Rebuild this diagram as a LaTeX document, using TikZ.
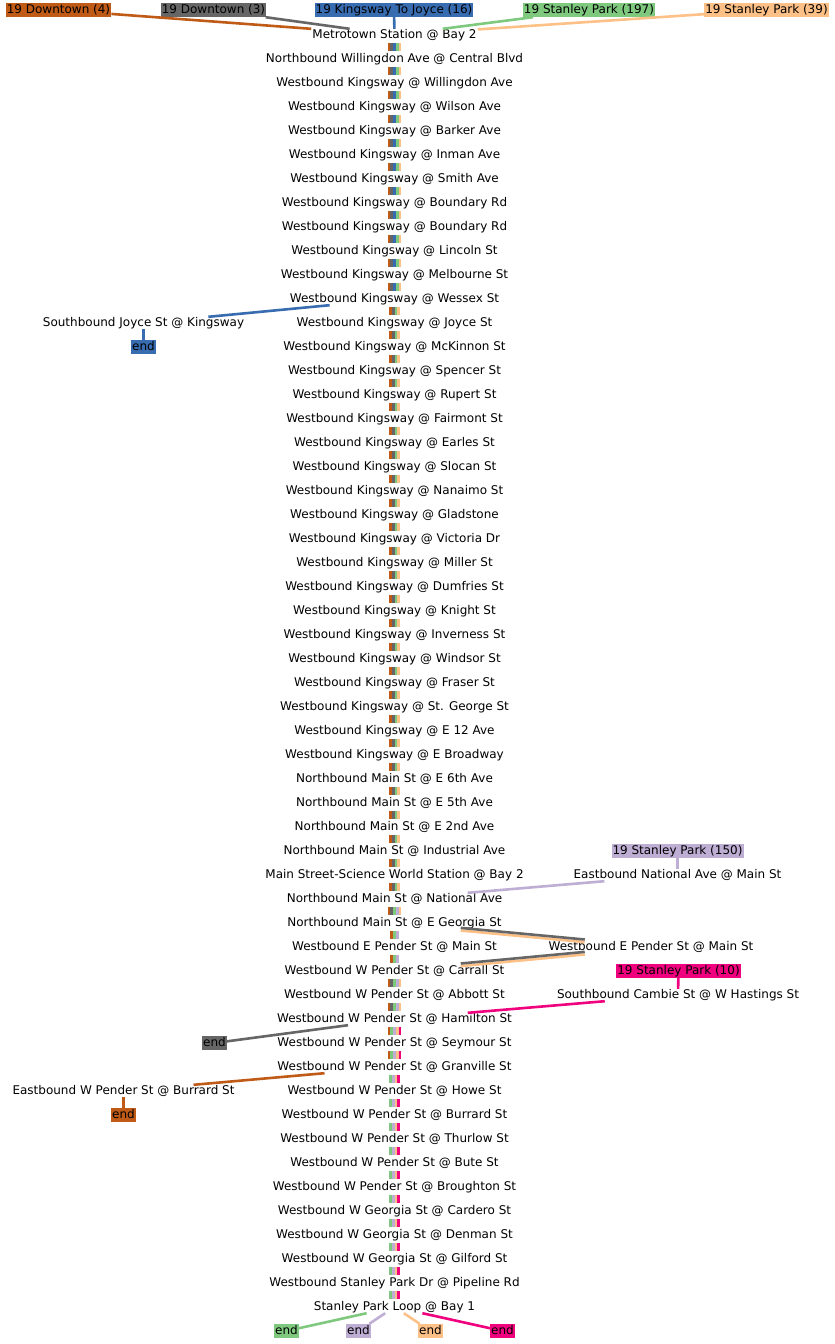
\documentclass[tikz,border=0pt]{standalone}
\usepackage{fontspec}
\setmainfont{DejaVu Sans}
\definecolor{cbrown}{HTML}{BF5B17}
\definecolor{cgray}{HTML}{666666}
\definecolor{cblue}{HTML}{386CB0}
\definecolor{cgreen}{HTML}{7FC97F}
\definecolor{cpurple}{HTML}{BEAED4}
\definecolor{cpeach}{HTML}{FDC086}
\definecolor{cpink}{HTML}{F0027F}
\tikzset{
  stopnode/.style={font=\fontsize{12pt}{14pt}\selectfont, inner xsep=1pt, inner ysep=0pt, text height=9pt, text depth=3pt},
  routebox/.style={stopnode, inner ysep=1pt, fill=#1},
  branch/.style={line width=2.6pt, draw=#1},
}
\newcommand\segbars[3]{%
  \foreach \c [count=\k] in {#3} {\xdef\nbars{\k}}%
  \foreach \c [count=\k] in {#3} {%
    \pgfmathsetmacro\off{(\k-(\nbars+1)/2)*2.7}%
    \draw[line width=2.7pt, draw=\c, shorten <=2pt, shorten >=2pt] ([xshift=\off pt]#1.south) -- ([xshift=\off pt]#2.north);
  }%
}
\begin{document}
\begin{tikzpicture}[x=1pt,y=-1pt]
\useasboundingbox (0,0) rectangle (835,1344);
% route labels
\node[routebox=cbrown] (l4) at (58.5,10) {19 Downtown (4)};
\node[routebox=cgray] (l3) at (213.5,10) {19 Downtown (3)};
\node[routebox=cblue] (l16) at (394,10) {19 Kingsway To Joyce (16)};
\node[routebox=cgreen] (l197) at (589,10) {19 Stanley Park (197)};
\node[routebox=cpeach] (l39) at (766.5,10) {19 Stanley Park (39)};
% main column stops
\foreach \t [count=\i] in {
Metrotown Station @ Bay 2,
Northbound Willingdon Ave @ Central Blvd,
Westbound Kingsway @ Willingdon Ave,
Westbound Kingsway @ Wilson Ave,
Westbound Kingsway @ Barker Ave,
Westbound Kingsway @ Inman Ave,
Westbound Kingsway @ Smith Ave,
Westbound Kingsway @ Boundary Rd,
Westbound Kingsway @ Boundary Rd,
Westbound Kingsway @ Lincoln St,
Westbound Kingsway @ Melbourne St,
Westbound Kingsway @ Wessex St,
Westbound Kingsway @ Joyce St,
Westbound Kingsway @ McKinnon St,
Westbound Kingsway @ Spencer St,
Westbound Kingsway @ Rupert St,
Westbound Kingsway @ Fairmont St,
Westbound Kingsway @ Earles St,
Westbound Kingsway @ Slocan St,
Westbound Kingsway @ Nanaimo St,
Westbound Kingsway @ Gladstone,
Westbound Kingsway @ Victoria Dr,
Westbound Kingsway @ Miller St,
Westbound Kingsway @ Dumfries St,
Westbound Kingsway @ Knight St,
Westbound Kingsway @ Inverness St,
Westbound Kingsway @ Windsor St,
Westbound Kingsway @ Fraser St,
Westbound Kingsway @ St. George St,
Westbound Kingsway @ E 12 Ave,
Westbound Kingsway @ E Broadway,
Northbound Main St @ E 6th Ave,
Northbound Main St @ E 5th Ave,
Northbound Main St @ E 2nd Ave,
Northbound Main St @ Industrial Ave,
Main Street-Science World Station @ Bay 2,
Northbound Main St @ National Ave,
Northbound Main St @ E Georgia St,
Westbound E Pender St @ Main St,
Westbound W Pender St @ Carrall St,
Westbound W Pender St @ Abbott St,
Westbound W Pender St @ Hamilton St,
Westbound W Pender St @ Seymour St,
Westbound W Pender St @ Granville St,
Westbound W Pender St @ Howe St,
Westbound W Pender St @ Burrard St,
Westbound W Pender St @ Thurlow St,
Westbound W Pender St @ Bute St,
Westbound W Pender St @ Broughton St,
Westbound W Georgia St @ Cardero St,
Westbound W Georgia St @ Denman St,
Westbound W Georgia St @ Gilford St,
Westbound Stanley Park Dr @ Pipeline Rd,
Stanley Park Loop @ Bay 1} {
  \node[stopnode] (s\i) at (394.5,{35+24*(\i-1)}) {\t};
}
% side stops
\node[stopnode] (joyce) at (143.5,323) {Southbound Joyce St @ Kingsway};
\node[routebox=cblue] (endblue) at (143.5,347) {end};
\node[routebox=cpurple] (l150) at (677.5,851) {19 Stanley Park (150)};
\node[stopnode] (natl) at (677.5,875) {Eastbound National Ave @ Main St};
\node[stopnode] (epender) at (651,947) {Westbound E Pender St @ Main St};
\node[routebox=cpink] (l10) at (678.5,971) {19 Stanley Park (10)};
\node[stopnode] (cambie) at (678,995) {Southbound Cambie St @ W Hastings St};
\node[routebox=cgray] (endgray) at (214.5,1043) {end};
\node[stopnode] (burrard) at (123.5,1091) {Eastbound W Pender St @ Burrard St};
\node[routebox=cbrown] (endbrown) at (123.5,1115) {end};
\node[routebox=cgreen] (endgreen) at (286.5,1331) {end};
\node[routebox=cpurple] (endpurple) at (358.5,1331) {end};
\node[routebox=cpeach] (endpeach) at (430.5,1331) {end};
\node[routebox=cpink] (endpink) at (502.5,1331) {end};
% bars between stops
\foreach \i in {1,...,11} {\pgfmathtruncatemacro\j{\i+1}\segbars{s\i}{s\j}{cbrown,cgray,cblue,cgreen,cpeach}}
\foreach \i in {12,...,36} {\pgfmathtruncatemacro\j{\i+1}\segbars{s\i}{s\j}{cbrown,cgray,cgreen,cpeach}}
\segbars{s37}{s38}{cbrown,cgray,cgreen,cpurple,cpeach}
\segbars{s38}{s39}{cbrown,cgreen,cpurple}
\segbars{s39}{s40}{cbrown,cgreen,cpurple}
\segbars{s40}{s41}{cbrown,cgray,cgreen,cpurple,cpeach}
\segbars{s41}{s42}{cbrown,cgray,cgreen,cpurple,cpeach}
\segbars{s42}{s43}{cbrown,cgreen,cpurple,cpeach,cpink}
\segbars{s43}{s44}{cbrown,cgreen,cpurple,cpeach,cpink}
\foreach \i in {44,...,53} {\pgfmathtruncatemacro\j{\i+1}\segbars{s\i}{s\j}{cgreen,cpurple,cpeach,cpink}}
% top connectors
\draw[branch=cbrown] (l4) -- (s1);
\draw[branch=cgray] (l3) -- (s1);
\draw[branch=cblue] (l16) -- (s1);
\draw[branch=cgreen] (l197) -- (s1);
\draw[branch=cpeach] (l39) -- (s1);
% branches
\draw[branch=cblue] (s12) -- (joyce) -- (endblue);
\draw[branch=cpurple] (l150) -- (natl) -- (s37);
\draw[branch=cpeach, transform canvas={yshift=-1.3pt}] (s38) -- (epender) -- (s40);
\draw[branch=cgray, transform canvas={yshift=1.3pt}] (s38) -- (epender) -- (s40);
\draw[branch=cpink] (l10) -- (cambie) -- (s42);
\draw[branch=cgray] (s42) -- (endgray);
\draw[branch=cbrown] (s44) -- (burrard) -- (endbrown);
\draw[branch=cgreen] (s54) -- (endgreen);
\draw[branch=cpurple] (s54) -- (endpurple);
\draw[branch=cpeach] (s54) -- (endpeach);
\draw[branch=cpink] (s54) -- (endpink);
\end{tikzpicture}
\end{document}
